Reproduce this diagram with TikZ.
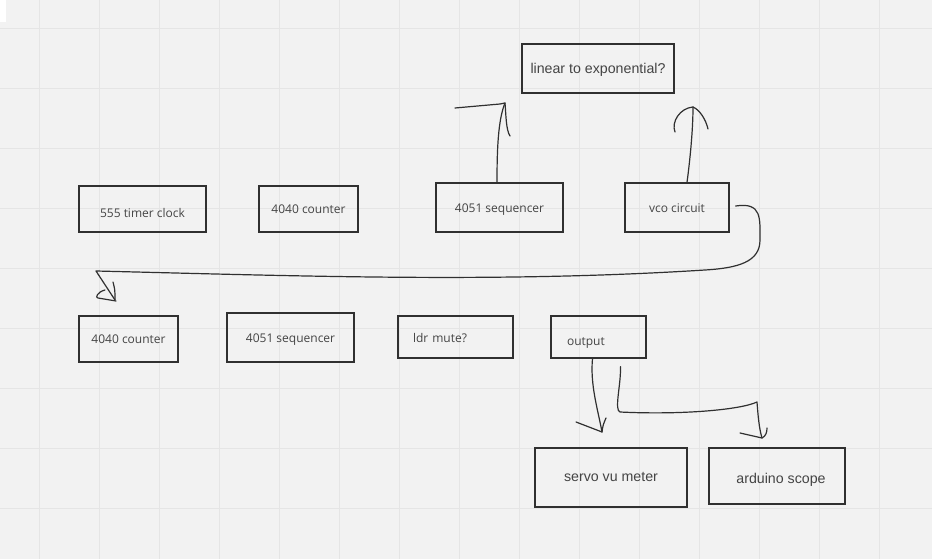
\documentclass[tikz,border=0pt]{standalone}
\usepackage{fontspec}
\setmainfont{Open Sans}
\newfontfamily\arialfont{Liberation Sans}
\usetikzlibrary{positioning,calc}
\definecolor{boardbg}{RGB}{242,242,242}
\definecolor{gridcol}{RGB}{229,229,229}
\definecolor{inkcol}{RGB}{48,48,48}
\definecolor{txtcol}{RGB}{68,68,68}

\begin{document}
\begin{tikzpicture}[x=1pt, y=-1pt, font=\fontsize{12}{14}\selectfont,
    blk/.style={draw=inkcol, line width=1.2pt, text=txtcol, inner sep=0pt, text height=13pt, text depth=3pt},
    big/.style={font=\arialfont\fontsize{14.2}{16}\selectfont},
    ink/.style={inkcol, line width=1.2pt, line cap=round, line join=round}]
        % board
        \useasboundingbox (0,0) rectangle (932,559);
        \fill[boardbg] (0,0) rectangle (932,559);
        \foreach \x in {0,...,14} \draw[gridcol, line width=1pt] (39.5+60*\x,0) -- (39.5+60*\x,559);
        \foreach \y in {0,...,8} \draw[gridcol, line width=1pt] (0,28.5+60*\y) -- (932,28.5+60*\y);
        \fill[white] (0,0) rectangle (6,22);
        % top row
        \node[blk, big, minimum width=152pt, minimum height=49pt] (lin) at (598,68.5) {linear to exponential?};
        \node[blk, minimum width=127pt, minimum height=46pt, text height=21pt] (clk) at (142.5,209) {555 timer clock};
        \node[blk, minimum width=99pt, minimum height=46pt, text height=11pt] (cntA) at (308.5,209) {4040 counter};
        \node[blk, minimum width=127pt, minimum height=49pt] (seqA) at (499.5,207.5) {4051 sequencer};
        \node[blk, minimum width=104pt, minimum height=49pt] (vco) at (677,207.5) {vco circuit};
        % bottom row
        \node[blk, minimum width=99pt, minimum height=46pt, text height=12pt] (cntB) at (128.5,339) {4040 counter};
        \node[blk, minimum width=127pt, minimum height=49pt] (seqB) at (290.5,337.5) {4051 sequencer};
        \node[blk, minimum height=42pt, text width=85pt, inner xsep=15pt, align=left] (ldr) at (455.5,337) {ldr mute?};
        \node[blk, minimum height=42pt, text width=63pt, inner xsep=16pt, align=left, text height=19pt] (outp) at (598.5,337) {output};
        \node[blk, big, minimum width=152pt, minimum height=59pt, text height=10pt] (servo) at (611,477.5) {servo vu meter};
        \node[blk, big, minimum width=136pt, minimum height=56pt, text height=17pt] (scope) at (777,476) {\hspace*{8pt}arduino scope};
        % loose arrow tips
        \coordinate (tipA) at (505,103);
        \coordinate (tipB) at (693,107);
        \coordinate (tipC) at (115,300);
        \coordinate (tipD) at (602,432);
        \coordinate (tipE) at (762,438);
        % sequencer -> up
        \draw[ink] ([xshift=-2.5pt]seqA.north) .. controls (497,150) and (498,120) .. (tipA);
        \draw[ink] (455,108) -- (500,104) -- (tipA) .. controls (506,115) and (506,130) .. (510,136);
        % vco -> up
        \draw[ink] ([xshift=10pt]vco.north) .. controls (690,160) and (693,130) .. (tipB);
        \draw[ink] (675,132) .. controls (671,122) and (680,108) .. (tipB) .. controls (700,110) and (706,120) .. (708,129);
        % vco -> second counter
        \draw[ink] ([xshift=6pt,yshift=1.5pt]vco.east) .. controls (762,202) and (760,218) .. (760,240)
            .. controls (760,262) and (738,268) .. (705,270) .. controls (500,283) and (300,276) .. (96,271)
            -- (tipC);
        \draw[ink] (113,282) .. controls (115,290) .. (tipC);
        \draw[ink] (105,290) .. controls (97,292) and (95,298) .. (98,298) -- (116,301);
        % output -> servo
        \draw[ink] ([xshift=-6pt]outp.south) .. controls (590,385) and (598,410) .. (tipD);
        \draw[ink] (576,422) -- (tipD) .. controls (603,425) .. (606,418);
        % output -> scope
        \draw[ink] ([xshift=22pt,yshift=-8pt]outp.south) .. controls (621,385) and (614,410) .. (620,412)
            .. controls (680,415) and (740,410) .. (757,402) .. controls (758,415) and (759,428) .. (tipE);
        \draw[ink] (740,433) -- (tipE) .. controls (766,436) and (767,432) .. (767,428);
\end{tikzpicture}
\end{document}
